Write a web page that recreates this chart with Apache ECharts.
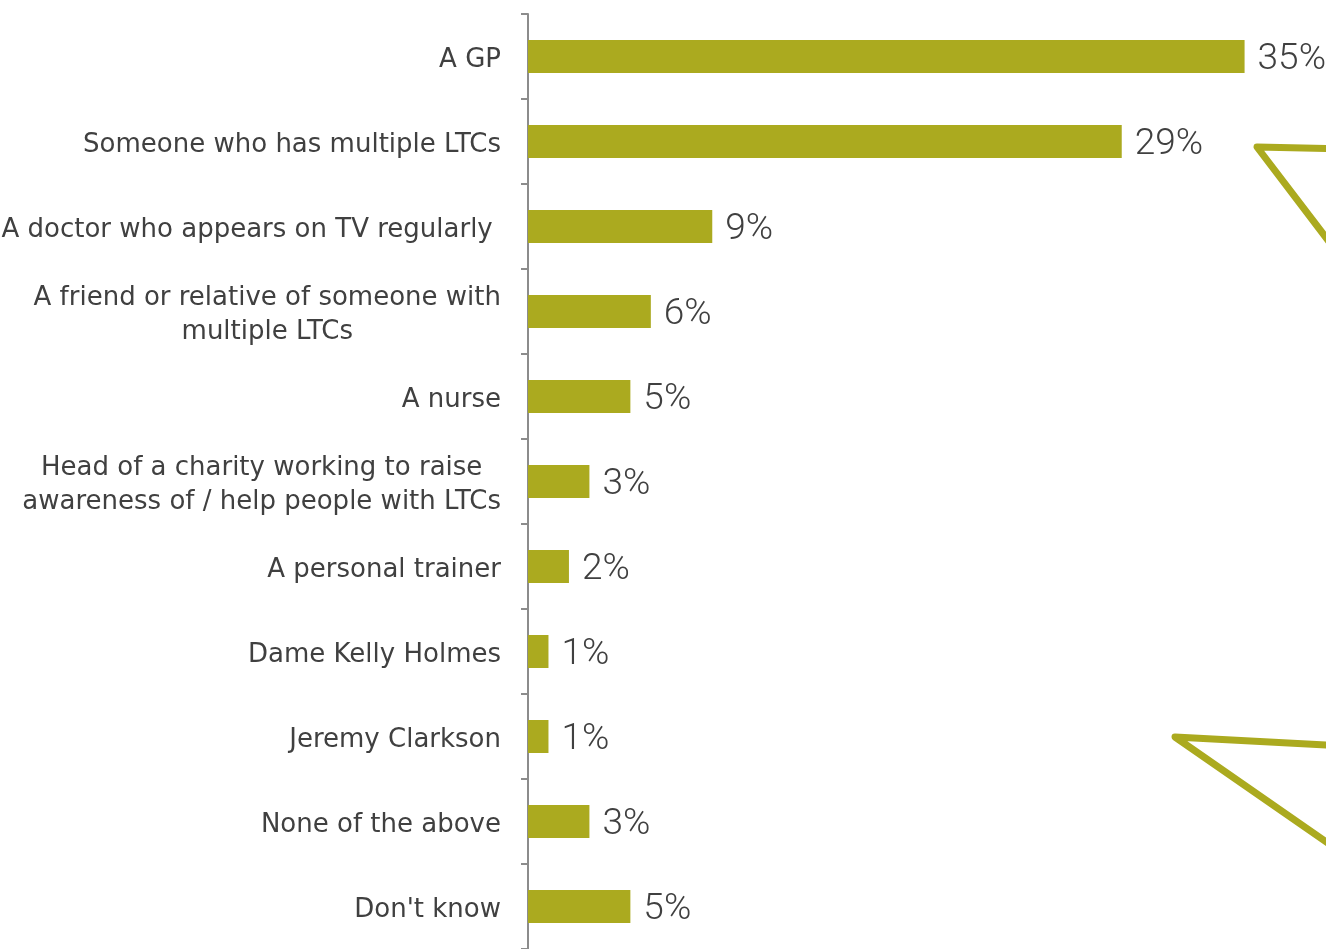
<!DOCTYPE html>
<html>
<head>
<meta charset="utf-8">
<script src="https://cdn.jsdelivr.net/npm/echarts@6/dist/echarts.min.js"></script>
<style>
html,body{margin:0;padding:0;background:#fff;}
#chart{width:1326px;height:949px;}
</style>
</head>
<body>
<div id="chart"></div>
<script>
const categories = [
  "A GP",
  "Someone who has multiple LTCs",
  "A doctor who appears on TV regularly ",
  "A friend or relative of someone with\nmultiple LTCs",
  "A nurse",
  "Head of a charity working to raise\nawareness of / help people with LTCs",
  "A personal trainer",
  "Dame Kelly Holmes",
  "Jeremy Clarkson",
  "None of the above",
  "Don't know"
];
const values = [35, 29, 9, 6, 5, 3, 2, 1, 1, 3, 5];

const OLIVE = '#abaa1f';
const TEXT = '#404040';
const LABEL_FONT = 'DejaVu Sans';

const chart = echarts.init(document.getElementById('chart'));
chart.setOption({
  animation: false,
  grid: { left: 528, right: 20, top: 14, bottom: 0, containLabel: false, outerBoundsMode: 'none' },
  xAxis: {
    type: 'value', min: 0, max: 38,
    show: false
  },
  yAxis: {
    type: 'category',
    inverse: true,
    data: categories,
    axisLine: { show: true, lineStyle: { color: '#8c8c8c', width: 2 } },
    axisTick: { show: true, length: 7, lineStyle: { color: '#8c8c8c', width: 2 } },
    axisLabel: {
      margin: 27,
      color: TEXT,
      fontFamily: LABEL_FONT,
      fontSize: 26,
      lineHeight: 34,
      align: 'right',
      padding: [8, 0, 0, 0],
      formatter: function (v) { return '{c|' + v.split('\n').join('}\n{c|') + '}'; },
      rich: { c: { align: 'center', fontFamily: LABEL_FONT, fontSize: 26, lineHeight: 34, color: TEXT } }
    },
    splitLine: { show: false }
  },
  series: [{
    type: 'bar',
    data: values,
    barWidth: 33,
    itemStyle: { color: OLIVE },
    label: {
      show: true,
      position: 'right',
      distance: 13,
      offset: [0, 3],
      formatter: '{c}%',
      color: TEXT,
      fontFamily: 'Roboto',
      fontWeight: 300,
      fontSize: 37
    }
  }],
  graphic: [
    {
      type: 'polyline',
      shape: { points: [[1345, 149], [1257, 147], [1340, 256]] },
      style: { stroke: OLIVE, lineWidth: 7, fill: null, lineJoin: 'round' }
    },
    {
      type: 'polyline',
      shape: { points: [[1345, 746], [1175, 737], [1345, 855]] },
      style: { stroke: OLIVE, lineWidth: 7, fill: null, lineJoin: 'round' }
    }
  ]
});
</script>
</body>
</html>
